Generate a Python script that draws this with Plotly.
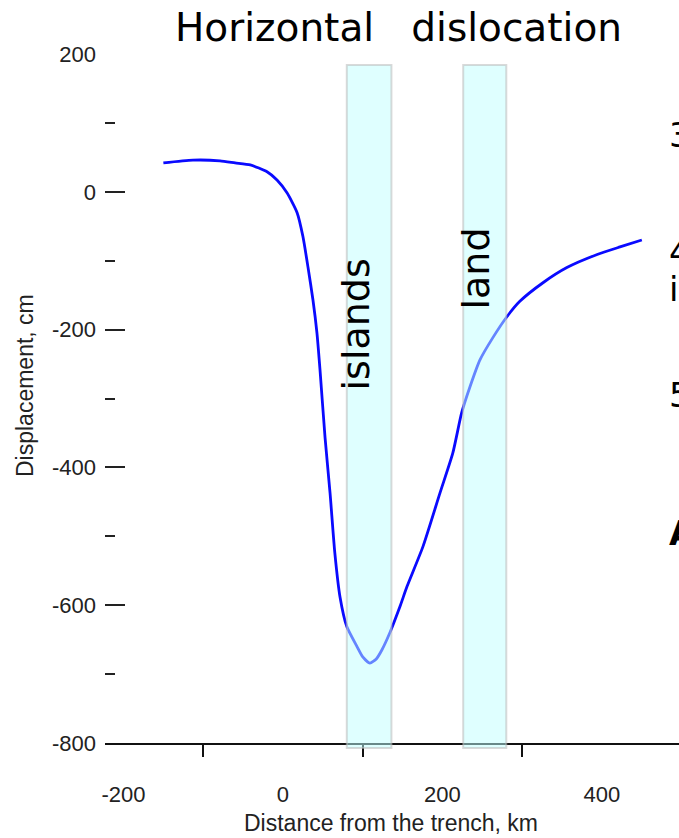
import plotly.graph_objects as go

# ---- data ----
distance_km = [-150, -113, -79, -60, -41, -20, -7.5, 5, 17.6, 25, 31.3, 37.6, 42.6, 46.4,
               52.7, 59, 65, 71.5, 80, 92.8, 100, 109, 117, 124, 134, 146.7, 155.5, 175.5, 196.9,
               213, 224, 234.5, 247, 263, 281, 297, 326, 356, 394, 422.6, 450]
displacement_cm = [42, 46, 45, 42, 39, 29, 17, -1.5, -30, -65, -109, -157, -205, -258,
                   -356, -437, -524, -588, -631, -660, -675, -684, -678, -665, -640, -602, -573,
                   -515, -437, -379, -321, -283, -244, -212, -181, -159, -132, -110, -91, -80, -70]

band_names = ["islands", "land"]
band_start_km = [80, 226]
band_end_km = [136, 280]
band_label_x = [92, 241.5]
band_label_y = [-192, -112]

x_tick_vals = [-200, 0, 200, 400]
x_tick_text = ["-200", "0", "200", "400"]
x_minor_vals = [-100, 100, 300]
y_tick_vals = [200, 0, -200, -400, -600, -800]
y_tick_text = ["200", "0", "-200", "-400", "-600", "-800"]
y_minor_vals = [100, -100, -300, -500, -700]

side_fragments = ["3", "4", "i", "5", "A"]
side_fragment_y = [135, 252, 289, 395, 533]

W, H = 679, 838
PLOT_L, PLOT_R, PLOT_T, PLOT_B = 105, 679, 54, 743   # plot area in page px
L, R, T, B = PLOT_L, W - PLOT_R, PLOT_T, H - PLOT_B
PW, PH = W - L - R, H - T - B


def px_to_paper_x(px):
    return (px - PLOT_L) / PW


def px_to_paper_y(py):
    return (PLOT_B - py) / PH


fig = go.Figure()
fig.add_trace(go.Scatter(x=distance_km, y=displacement_cm, mode="lines",
                         line=dict(color="#0a0aff", width=2.8, shape="spline", smoothing=0.6),
                         showlegend=False, hoverinfo="skip"))

for name, x0, x1, lx, ly in zip(band_names, band_start_km, band_end_km, band_label_x, band_label_y):
    fig.add_shape(type="rect", xref="x", yref="paper", x0=x0, x1=x1,
                  y0=px_to_paper_y(748), y1=px_to_paper_y(65),
                  fillcolor="rgba(192,255,255,0.5)", line=dict(color="rgba(185,185,185,0.55)", width=2),
                  layer="above")
    fig.add_annotation(x=lx, y=ly, xref="x", yref="y", text=name, textangle=-90,
                       showarrow=False, font=dict(family="DejaVu Sans", size=38, color="black"))

for t, py in zip(side_fragments, side_fragment_y):
    fig.add_annotation(x=px_to_paper_x(667), y=px_to_paper_y(py),
                       xref="paper", yref="paper", text=t,
                       xanchor="left", yanchor="middle", showarrow=False,
                       font=dict(family="DejaVu Sans", size=34, color="black",
                                 weight="bold" if t == "A" else "normal"))

# axis titles
fig.add_annotation(x=px_to_paper_x(391), y=px_to_paper_y(823), xref="paper", yref="paper",
                   text="Distance from the trench, km", showarrow=False,
                   xanchor="center", yanchor="middle",
                   font=dict(family="Liberation Sans", size=23, color="#222"))
fig.add_annotation(x=px_to_paper_x(25), y=px_to_paper_y(386), xref="paper", yref="paper",
                   text="Displacement, cm", showarrow=False, textangle=-90,
                   xanchor="center", yanchor="middle",
                   font=dict(family="Liberation Sans", size=23, color="#222"))

fig.update_layout(
    width=W, height=H,
    margin=dict(l=L, r=R, t=T, b=B, autoexpand=False),
    paper_bgcolor="white", plot_bgcolor="white",
    title=dict(text="Horizontal\u00a0\u00a0\u00a0dislocation", x=398.5 / W, xanchor="center",
               xref="container", yref="container", y=1 - 27 / H, yanchor="middle",
               automargin=False,
               font=dict(family="DejaVu Sans", size=39, color="black")),
)
fig.update_xaxes(
    range=[-223.2, 496.6], showgrid=False, zeroline=False, automargin=False,
    showline=True, linecolor="#111", linewidth=2,
    tickmode="array", tickvals=x_tick_vals, ticktext=x_tick_text,
    ticks="outside", ticklen=0, ticklabelstandoff=31,
    tickfont=dict(family="Liberation Sans", size=22, color="#222"),
    minor=dict(tickmode="array", tickvals=x_minor_vals, ticks="outside", ticklen=12,
               tickwidth=2, tickcolor="#111"),
)
fig.update_yaxes(
    range=[-800, 200], showgrid=False, zeroline=False, showline=False, automargin=False,
    tickmode="array", tickvals=y_tick_vals, ticktext=y_tick_text,
    ticks="inside", ticklen=20, tickwidth=2, tickcolor="#222", ticklabelstandoff=8,
    tickfont=dict(family="Liberation Sans", size=22, color="#222"),
    minor=dict(tickmode="array", tickvals=y_minor_vals, ticks="inside", ticklen=10,
               tickwidth=2, tickcolor="#222"),
)

fig.write_html(
    "out.html",
    config={"displayModeBar": False},
    post_script="document.body.style.margin='0';document.body.style.overflow='hidden';",
)
